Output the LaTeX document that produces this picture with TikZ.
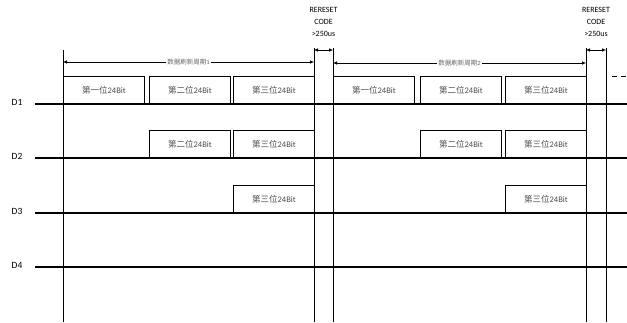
\documentclass[tikz,border=0pt]{standalone}
\usepackage{fontspec}
\setmainfont{Carlito}
\newfontfamily\cjk{Noto Sans CJK SC}
\usetikzlibrary{arrows.meta}

\tikzset{
  dataline/.style={line width=2pt},
  timeline/.style={line width=0.9pt},
  bitbox/.style={draw,line width=0.8pt,anchor=south west,minimum width=81pt,
    minimum height=27pt,inner sep=0pt,text=black!70,font=\fontsize{8.5}{10}\selectfont},
  spanarrow/.style={line width=0.6pt,{Latex[length=4pt,width=3.5pt]}-{Latex[length=4pt,width=3.5pt]}},
  periodlabel/.style={fill=white,inner sep=1pt,text=black!60,font=\fontsize{6.5}{7}\selectfont},
  resetlabel/.style={align=center,font=\fontsize{8}{12}\selectfont}
}
\newcommand{\bitlabel}[1]{{\cjk #1}24Bit}

\begin{document}
\begin{tikzpicture}[x=1pt,y=-1pt]
  \useasboundingbox (0,0) rectangle (627,322);

  % vertical time marks
  \coordinate (t0) at (63,50);   \coordinate (b0) at (63,322);
  \coordinate (t1) at (314,48);  \coordinate (b1) at (314,322);
  \coordinate (t2) at (333,48);  \coordinate (b2) at (333,322);
  \coordinate (t3) at (586,48);  \coordinate (b3) at (586,322);
  \coordinate (t4) at (606,48);  \coordinate (b4) at (606,322);
  \foreach \i in {0,...,4}
    \draw[timeline] (t\i) -- (b\i);

  % data lines
  \foreach \n/\y in {1/104,2/158,3/213,4/267} {
    \node[font=\fontsize{9.5}{11}\selectfont] (d\n) at (17,\y-2) {D\n};
    \coordinate (s\n) at (35,\y);
    \coordinate (e\n) at (627,\y);
    \draw[dataline] (s\n) -- (e\n);
  }

  % 24 bit boxes
  \node[bitbox] (a11) at (63,104)  {\bitlabel{第一位}};
  \node[bitbox] (a12) at (149,104) {\bitlabel{第二位}};
  \node[bitbox] (a13) at (233,104) {\bitlabel{第三位}};
  \node[bitbox] (b11) at (333,104) {\bitlabel{第一位}};
  \node[bitbox] (b12) at (420,104) {\bitlabel{第二位}};
  \node[bitbox] (b13) at (505,104) {\bitlabel{第三位}};

  \node[bitbox] (a22) at (149,158) {\bitlabel{第二位}};
  \node[bitbox] (a23) at (233,158) {\bitlabel{第三位}};
  \node[bitbox] (b22) at (420,158) {\bitlabel{第二位}};
  \node[bitbox] (b23) at (505,158) {\bitlabel{第三位}};

  \node[bitbox] (a33) at (233,213) {\bitlabel{第三位}};
  \node[bitbox] (b33) at (505,213) {\bitlabel{第三位}};

  % refresh periods
  \coordinate (p1l) at (63,62);  \coordinate (p1r) at (314,62);
  \coordinate (p2l) at (333,63); \coordinate (p2r) at (586,63);
  \draw[spanarrow] (p1l) -- (p1r) node[periodlabel,pos=.5] {{\cjk 数据刷新周期}1};
  \draw[spanarrow] (p2l) -- (p2r) node[periodlabel,pos=.5] {{\cjk 数据刷新周期}2};

  % reset code
  \coordinate (r1l) at (314,50); \coordinate (r1r) at (333,50);
  \coordinate (r2l) at (586,50); \coordinate (r2r) at (606,50);
  \draw[spanarrow] (r1l) -- (r1r);
  \draw[spanarrow] (r2l) -- (r2r);
  \node[resetlabel] (rc1) at (323.5,22) {RERESET\\CODE\\>250us};
  \node[resetlabel] (rc2) at (596,22) {RERESET\\CODE\\>250us};

  % next period
  \coordinate (n1) at (612,76); \coordinate (n2) at (627,76);
  \draw[line width=0.6pt,dash pattern=on 5pt off 4pt] (n1) -- (n2);
\end{tikzpicture}
\end{document}
